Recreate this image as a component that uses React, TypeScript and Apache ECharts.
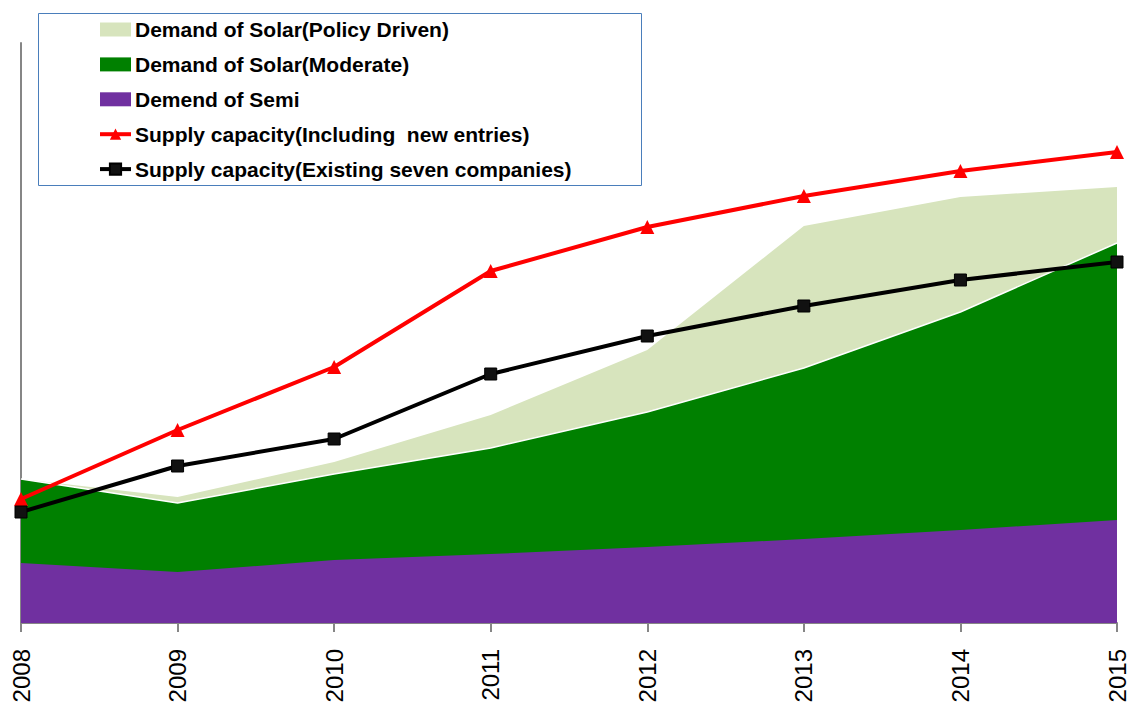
import React, { useEffect, useRef } from "react";
import * as echarts from "echarts";

const years = ["2008", "2009", "2010", "2011", "2012", "2013", "2014", "2015"];
const policyDriven = [144, 126, 161, 208, 273, 397, 426, 436];
const moderate = [144, 120, 149, 175, 211, 255, 311, 380];
const semi = [60, 51, 63, 69, 76, 84, 93, 103];
const supplyNew = [124, 193, 256, 352, 396, 427, 452, 471];
const supplyExisting = [111, 157, 184, 249, 287, 317, 343, 361];

const names = [
  "Demand of Solar(Policy Driven)",
  "Demand of Solar(Moderate)",
  "Demend of Semi",
  "Supply capacity(Including  new entries)",
  "Supply capacity(Existing seven companies)",
];

export default function App() {
  const ref = useRef<HTMLDivElement>(null);
  useEffect(() => {
    if (!ref.current) return;
    const chart = echarts.init(ref.current, null, { renderer: "svg" });
    const legendFont = "'Liberation Sans Narrow', 'Liberation Sans', Arial, sans-serif";
    chart.setOption({
      animation: false,
      backgroundColor: "#ffffff",
      grid: { left: 21, right: 18, top: 43, bottom: 87, containLabel: false },
      graphic: [
        {
          type: "rect",
          shape: { x: 38.5, y: 13.5, width: 603, height: 172 },
          style: { fill: "none", stroke: "#4a7ebb", lineWidth: 1 },
          z: 0,
        },
      ],
      legend: {
        orient: "vertical",
        left: 98,
        top: 19,
        padding: 0,
        itemWidth: 31,
        itemHeight: 14,
        itemGap: 13.9,
        selectedMode: false,
        data: [
          { name: names[0], icon: "rect" },
          { name: names[1], icon: "rect" },
          { name: names[2], icon: "rect" },
          { name: names[3], lineStyle: { width: 4 } },
          { name: names[4], lineStyle: { width: 4 } },
        ],
        textStyle: {
          fontFamily: legendFont,
          fontWeight: "bold",
          fontSize: 21,
          color: "#000",
          lineHeight: 20,
          padding: [0, 0, 0, -1],
        },
      },
      xAxis: {
        type: "category",
        data: years,
        boundaryGap: false,
        axisLine: { lineStyle: { color: "#868686", width: 2 } },
        axisTick: { show: true, length: 9, lineStyle: { color: "#868686", width: 2 } },
        axisLabel: {
          rotate: 90,
          margin: 26,
          fontSize: 24,
          fontFamily: "'Liberation Sans', Arial, sans-serif",
          color: "#000",
        },
        splitLine: { show: false },
      },
      yAxis: {
        type: "value",
        min: 0,
        max: 580,
        axisLine: { show: true, lineStyle: { color: "#868686", width: 2 } },
        axisTick: { show: false },
        axisLabel: { show: false },
        splitLine: { show: false },
      },
      series: [
        {
          name: names[0],
          type: "line",
          data: policyDriven,
          showSymbol: false,
          symbol: "none",
          lineStyle: { width: 0, color: "#d7e4bd" },
          itemStyle: { color: "#d7e4bd" },
          areaStyle: { color: "#d7e4bd", opacity: 1 },
          z: 1,
        },
        {
          name: names[1],
          type: "line",
          data: moderate,
          showSymbol: false,
          symbol: "none",
          lineStyle: { width: 1.5, color: "#ffffff" },
          itemStyle: { color: "#008000" },
          areaStyle: { color: "#008000", opacity: 1 },
          z: 2,
        },
        {
          name: names[2],
          type: "line",
          data: semi,
          showSymbol: false,
          symbol: "none",
          lineStyle: { width: 0, color: "#7030a0" },
          itemStyle: { color: "#7030a0" },
          areaStyle: { color: "#7030a0", opacity: 1 },
          z: 3,
        },
        {
          name: names[3],
          type: "line",
          data: supplyNew,
          symbol: "triangle",
          symbolSize: 14,
          lineStyle: { width: 4, color: "#ff0000" },
          itemStyle: { color: "#ff0000" },
          z: 5,
        },
        {
          name: names[4],
          type: "line",
          data: supplyExisting,
          symbol: "rect",
          symbolSize: 12,
          lineStyle: { width: 4, color: "#000000" },
          itemStyle: { color: "#111111", borderColor: "#000", borderWidth: 1 },
          z: 6,
        },
      ],
    });
    return () => chart.dispose();
  }, []);
  return <div ref={ref} style={{ width: 1135, height: 710, margin: -8 }} />;
}
